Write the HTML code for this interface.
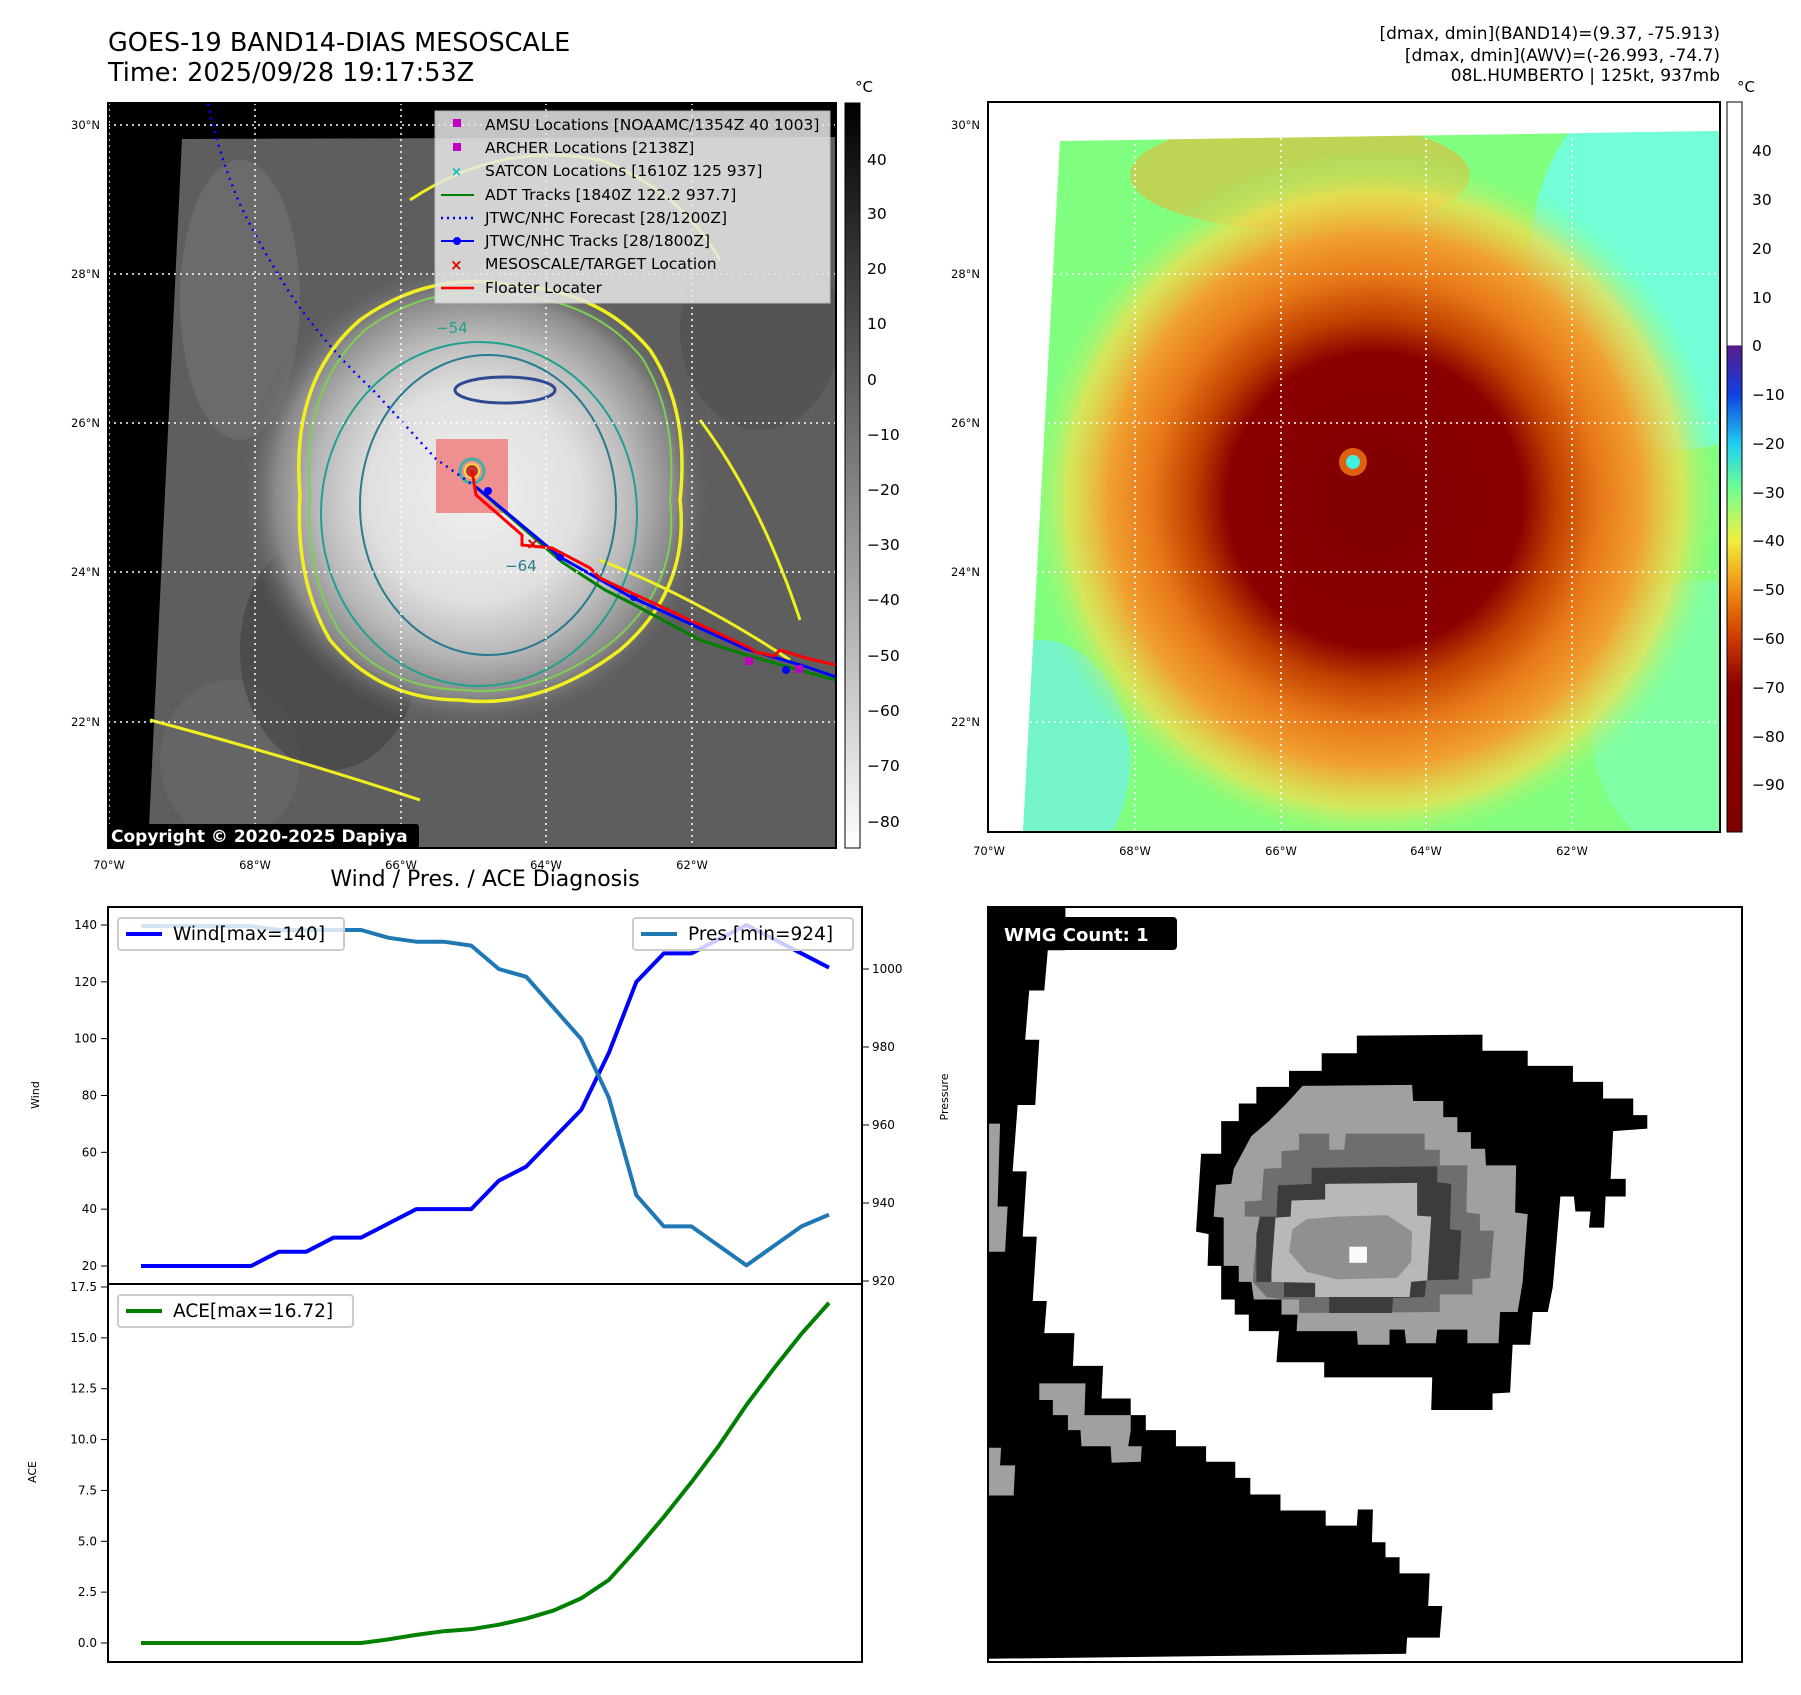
<!DOCTYPE html>
<html><head><meta charset="utf-8"><style>
body{margin:0;background:#fff;}
svg text{font-family:"DejaVu Sans","Liberation Sans",sans-serif;}
</style></head><body>
<svg id="root" width="1801" height="1690" viewBox="0 0 1801 1690" xmlns="http://www.w3.org/2000/svg">
<defs>
<radialGradient id="cloud" cx="475" cy="495" r="235" gradientUnits="userSpaceOnUse">
<stop offset="0" stop-color="#f0f0f0"/><stop offset="0.45" stop-color="#e0e0e0"/><stop offset="0.68" stop-color="#b8b8b8"/><stop offset="0.85" stop-color="#8a8a8a"/><stop offset="1" stop-color="#606060" stop-opacity="0"/></radialGradient>
<linearGradient id="cb1" x1="0" y1="0" x2="0" y2="1"><stop offset="0" stop-color="#000"/><stop offset="1" stop-color="#fff"/></linearGradient>
<linearGradient id="cb2" x1="0" y1="0" x2="0" y2="1">
<stop offset="0" stop-color="#fff"/><stop offset="0.333" stop-color="#fff"/><stop offset="0.334" stop-color="#5a1a8c"/>
<stop offset="0.4" stop-color="#1040e0"/><stop offset="0.47" stop-color="#20d0f0"/><stop offset="0.53" stop-color="#70ff90"/>
<stop offset="0.6" stop-color="#f0f040"/><stop offset="0.67" stop-color="#f08a10"/><stop offset="0.73" stop-color="#d04000"/>
<stop offset="0.8" stop-color="#8a0000"/><stop offset="1" stop-color="#800000"/></linearGradient>
<radialGradient id="storm2" cx="1375" cy="500" r="350" gradientUnits="userSpaceOnUse">
<stop offset="0" stop-color="#800000"/><stop offset="0.42" stop-color="#8a0000"/><stop offset="0.52" stop-color="#c04000"/>
<stop offset="0.64" stop-color="#e87818"/><stop offset="0.76" stop-color="#f0a030"/><stop offset="0.88" stop-color="#f0e050" stop-opacity="0.75"/><stop offset="1" stop-color="#80ff80" stop-opacity="0"/></radialGradient>
<clipPath id="m1"><rect x="108" y="103" width="728" height="745"/></clipPath>
<clipPath id="m2"><polygon points="1060,141 1720,131 1720,832 1023,832"/></clipPath>
</defs>

<!-- Top-left map -->
<text x="108" y="51" font-size="25.5">GOES-19 BAND14-DIAS MESOSCALE</text>
<text x="108" y="81" font-size="25.5">Time: 2025/09/28 19:17:53Z</text>
<g clip-path="url(#m1)">
<rect x="108" y="103" width="728" height="745" fill="#000"/>
<polygon points="182,139 836,137 836,848 148,848" fill="#5e5e5e"/>
<ellipse cx="240" cy="300" rx="60" ry="140" fill="#747474" opacity="0.6"/>
<ellipse cx="230" cy="760" rx="70" ry="80" fill="#6a6a6a" opacity="0.6"/>
<ellipse cx="330" cy="650" rx="90" ry="120" fill="#3e3e3e" opacity="0.55"/>
<ellipse cx="760" cy="330" rx="80" ry="100" fill="#4a4a4a" opacity="0.5"/>
<ellipse cx="475" cy="495" rx="240" ry="240" fill="url(#cloud)"/>
<path d="M300,495 Q290,380 360,320 Q430,270 510,285 Q600,290 650,350 Q690,410 680,500 Q690,590 620,650 Q540,710 460,700 Q380,700 330,640 Q295,580 300,495Z" fill="none" stroke="#f0f020" stroke-width="3.5"/>
<path d="M310,495 Q300,390 365,330 Q430,282 510,295 Q595,300 642,358 Q678,415 670,500 Q680,585 612,642 Q540,698 462,690 Q385,688 340,632 Q305,575 310,495Z" fill="none" stroke="#7ed050" stroke-width="2"/>
<path d="M410,200 Q500,140 600,160 Q680,190 720,260 M600,560 Q700,600 790,660 M150,720 Q300,760 420,800 M700,420 Q760,500 800,620" stroke="#f0f020" stroke-width="3" fill="none"/>
<ellipse cx="479" cy="514" rx="158" ry="172" fill="none" stroke="#20a090" stroke-width="2"/>
<ellipse cx="488" cy="505" rx="128" ry="150" fill="none" stroke="#2a7a90" stroke-width="2"/>
<ellipse cx="505" cy="390" rx="50" ry="13" fill="none" stroke="#304890" stroke-width="3"/>
<text x="436" y="333" font-size="15" fill="#20a090">−54</text>
<text x="505" y="571" font-size="15" fill="#2a7a90">−64</text>
<rect x="436" y="439" width="72" height="74" fill="#f08080" opacity="0.85"/>
<circle cx="472" cy="471" r="12" fill="none" stroke="#40b0a0" stroke-width="3"/>
<circle cx="472" cy="471" r="7" fill="#c03030" stroke="#f0e040" stroke-width="2"/>
<path d="M208,104 Q225,180 253,230 Q285,290 310,321 Q340,360 373,390 Q405,425 436,459 L476,487" fill="none" stroke="#0000ff" stroke-width="2.5" stroke-dasharray="2 5"/>
<polyline points="476,487 560,557 631,597 746,649 804,666 836,677" fill="none" stroke="#00a0a0" stroke-width="3"/>
<polyline points="476,487 562,562 605,590 631,603 700,640 746,655 806,672 836,680" fill="none" stroke="#008000" stroke-width="3"/>
<polyline points="476,487 560,557 631,597 746,649 804,666 836,677" fill="none" stroke="#0000ff" stroke-width="3"/>
<circle cx="488" cy="491" r="4" fill="#00f"/><circle cx="560" cy="557" r="4" fill="#00f"/><circle cx="634" cy="597" r="4" fill="#00f"/><circle cx="786" cy="670" r="4" fill="#00f"/>
<polyline points="472,471 476,495 522,535 522,545 552,548 590,568 600,578 636,595 750,648 756,652 774,656 780,650 806,658 836,665" fill="none" stroke="#ff0000" stroke-width="3"/>
<rect x="745" y="657" width="8" height="8" fill="#c000c0"/><rect x="795" y="665" width="8" height="8" fill="#c000c0"/>
<text x="526" y="549" font-size="16" fill="#e00000" font-weight="bold">×</text>
<g stroke="#fff" stroke-width="1.5" stroke-dasharray="2 4">
<line x1="108" y1="125" x2="836" y2="125"/><line x1="108" y1="274" x2="836" y2="274"/><line x1="108" y1="423" x2="836" y2="423"/><line x1="108" y1="572" x2="836" y2="572"/><line x1="108" y1="722" x2="836" y2="722"/>
<line x1="109" y1="103" x2="109" y2="848"/><line x1="255" y1="103" x2="255" y2="848"/><line x1="401" y1="103" x2="401" y2="848"/><line x1="546" y1="103" x2="546" y2="848"/><line x1="692" y1="103" x2="692" y2="848"/>
</g>
<g>
<rect x="435" y="111" width="395" height="192" fill="#e8e8e8" opacity="0.85" stroke="#ccc"/>
<g font-size="15.5" fill="#000">
<rect x="453" y="119" width="8" height="8" fill="#c000c0"/><text x="485" y="130">AMSU Locations [NOAAMC/1354Z 40 1003]</text>
<rect x="453" y="143" width="8" height="8" fill="#c000c0"/><text x="485" y="153">ARCHER Locations [2138Z]</text>
<text x="451" y="176" fill="#00c0c0" font-size="13" font-weight="bold">×</text><text x="485" y="176">SATCON Locations [1610Z 125 937]</text>
<line x1="441" y1="195" x2="474" y2="195" stroke="#008000" stroke-width="2"/><text x="485" y="200">ADT Tracks [1840Z 122.2 937.7]</text>
<line x1="441" y1="218" x2="474" y2="218" stroke="#00f" stroke-width="2.5" stroke-dasharray="2 4"/><text x="485" y="223">JTWC/NHC Forecast [28/1200Z]</text>
<line x1="441" y1="241" x2="474" y2="241" stroke="#00f" stroke-width="2"/><circle cx="457" cy="241" r="4" fill="#00f"/><text x="485" y="246">JTWC/NHC Tracks [28/1800Z]</text>
<text x="450" y="270" fill="#e00000" font-size="15" font-weight="bold">×</text><text x="485" y="269">MESOSCALE/TARGET Location</text>
<line x1="441" y1="288" x2="474" y2="288" stroke="#f00" stroke-width="2.5"/><text x="485" y="293">Floater Locater</text>
</g></g>
<rect x="107" y="824" width="312" height="24" fill="#000" rx="3"/>
<text x="111" y="842" font-size="17" font-weight="bold" fill="#fff">Copyright © 2020-2025 Dapiya</text>
</g>
<rect x="108" y="103" width="728" height="745" fill="none" stroke="#000" stroke-width="2"/>
<g font-size="11.5" text-anchor="end">
<text x="100" y="129">30°N</text><text x="100" y="278">28°N</text><text x="100" y="427">26°N</text><text x="100" y="576">24°N</text><text x="100" y="726">22°N</text></g>
<g font-size="11.5" text-anchor="middle">
<text x="109" y="869">70°W</text><text x="255" y="869">68°W</text><text x="401" y="869">66°W</text><text x="546" y="869">64°W</text><text x="692" y="869">62°W</text></g>
<g>
<rect x="845" y="103" width="15" height="745" fill="url(#cb1)" stroke="#000"/>
<text x="855" y="92" font-size="15">°C</text>
<g font-size="15.5"><text x="867" y="165">40</text><text x="867" y="219">30</text><text x="867" y="274">20</text><text x="867" y="329">10</text><text x="867" y="385">0</text><text x="867" y="440">−10</text><text x="867" y="495">−20</text><text x="867" y="550">−30</text><text x="867" y="605">−40</text><text x="867" y="661">−50</text><text x="867" y="716">−60</text><text x="867" y="771">−70</text><text x="867" y="827">−80</text></g></g>

<!-- Top-right map -->
<g font-size="17" text-anchor="end">
<text x="1720" y="39">[dmax, dmin](BAND14)=(9.37, -75.913)</text>
<text x="1720" y="61">[dmax, dmin](AWV)=(-26.993, -74.7)</text>
<text x="1720" y="81">08L.HUMBERTO | 125kt, 937mb</text></g>
<g>
<rect x="988" y="102" width="732" height="730" fill="#fff"/>
<g clip-path="url(#m2)">
<rect x="988" y="102" width="732" height="730" fill="#80ff80"/>
<ellipse cx="1680" cy="260" rx="150" ry="190" fill="#70ffe0" opacity="0.9"/>
<ellipse cx="1040" cy="760" rx="90" ry="120" fill="#70f0e8" opacity="0.7"/>
<ellipse cx="1700" cy="720" rx="110" ry="140" fill="#80ffb0" opacity="0.8"/>
<ellipse cx="1300" cy="175" rx="170" ry="55" fill="#f0b030" opacity="0.55"/>
<ellipse cx="1375" cy="500" rx="350" ry="350" fill="url(#storm2)"/>
<circle cx="1353" cy="462" r="14" fill="#e06010"/>
<circle cx="1353" cy="462" r="7" fill="#40f0e0"/>
</g>
<g stroke="#fff" stroke-width="1.5" stroke-dasharray="2 4">
<line x1="988" y1="125" x2="1720" y2="125"/><line x1="988" y1="274" x2="1720" y2="274"/><line x1="988" y1="423" x2="1720" y2="423"/><line x1="988" y1="572" x2="1720" y2="572"/><line x1="988" y1="722" x2="1720" y2="722"/>
<line x1="989" y1="102" x2="989" y2="832"/><line x1="1135" y1="102" x2="1135" y2="832"/><line x1="1281" y1="102" x2="1281" y2="832"/><line x1="1426" y1="102" x2="1426" y2="832"/><line x1="1572" y1="102" x2="1572" y2="832"/>
</g></g>
<rect x="988" y="102" width="732" height="730" fill="none" stroke="#000" stroke-width="2"/>
<g font-size="11.5" text-anchor="end"><text x="980" y="129">30°N</text><text x="980" y="278">28°N</text><text x="980" y="427">26°N</text><text x="980" y="576">24°N</text><text x="980" y="726">22°N</text></g>
<g font-size="11.5" text-anchor="middle"><text x="989" y="855">70°W</text><text x="1135" y="855">68°W</text><text x="1281" y="855">66°W</text><text x="1426" y="855">64°W</text><text x="1572" y="855">62°W</text></g>
<g>
<rect x="1727" y="102" width="15" height="730" fill="url(#cb2)" stroke="#000"/>
<text x="1737" y="92" font-size="15">°C</text>
<g font-size="15.5"><text x="1752" y="156">40</text><text x="1752" y="205">30</text><text x="1752" y="254">20</text><text x="1752" y="303">10</text><text x="1752" y="351">0</text><text x="1752" y="400">−10</text><text x="1752" y="449">−20</text><text x="1752" y="498">−30</text><text x="1752" y="546">−40</text><text x="1752" y="595">−50</text><text x="1752" y="644">−60</text><text x="1752" y="693">−70</text><text x="1752" y="742">−80</text><text x="1752" y="790">−90</text></g></g>

<!-- Bottom-left chart -->
<text x="485" y="886" font-size="22" text-anchor="middle">Wind / Pres. / ACE Diagnosis</text>
<g id="chart"></g>

<!-- Bottom-right WMG -->
<g>
<rect x="988" y="907" width="754" height="755" fill="#fff"/>
<g transform="translate(985,900) scale(0.5025)">
<polygon fill="#000" points="0,15 160,15 160,100 125,100 118,180 88,180 80,278 108,278 100,408 65,408 55,540 83,540 75,670 103,670 95,798 123,798 118,862 178,862 175,927 235,927 232,992 290,992 290,1025 320,1025 320,1055 380,1055 380,1087 440,1087 440,1118 498,1118 498,1150 528,1150 528,1183 588,1183 588,1215 678,1215 678,1245 740,1245 742,1213 772,1213 770,1278 797,1278 797,1308 825,1308 825,1340 885,1340 882,1405 910,1405 905,1468 840,1468 838,1500 6,1510 6,15"/>
<polygon fill="#a0a0a0" points="6,445 30,445 25,610 45,610 40,700 6,700"/>
<polygon fill="#a0a0a0" points="108,962 200,962 198,1025 290,1025 290,1055 285,1087 312,1087 310,1118 252,1120 250,1087 192,1087 190,1055 165,1055 165,1025 135,1025 135,995 108,995"/>
<polygon fill="#a0a0a0" points="6,1030 6,1185 57,1185 60,1125 30,1125 32,1090 6,1090"/>
<polygon fill="#000" points="420,660 430,505 470,505 470,440 505,440 505,405 540,405 540,372 605,372 605,340 670,340 670,305 740,305 740,270 990,268 990,300 1080,300 1080,330 1170,330 1170,362 1230,362 1230,395 1290,395 1290,428 1318,428 1318,455 1250,460 1245,555 1275,555 1275,590 1235,590 1232,652 1202,652 1205,620 1175,620 1172,590 1145,590 1130,770 1120,820 1090,820 1085,885 1050,885 1045,980 1010,982 1010,1015 888,1015 890,950 675,950 675,920 580,920 585,858 525,858 525,825 497,825 497,795 470,795 470,728 443,728 445,665"/>
<polygon fill="#a0a0a0" points="455,630 460,567 490,565 495,535 530,470 565,440 600,405 632,370 850,368 852,400 912,400 912,432 940,432 940,462 967,462 967,495 995,495 997,528 1057,528 1055,622 1080,625 1070,760 1060,820 1025,820 1022,882 960,882 960,855 900,855 897,882 838,882 835,855 805,855 805,885 742,885 740,858 620,858 622,825 590,825 590,795 535,795 530,760 505,760 505,728 475,728 475,632"/>
<polygon fill="#6e6e6e" points="517,630 517,600 550,598 555,535 590,533 590,500 625,497 625,465 685,465 685,497 715,497 718,465 875,465 875,497 905,497 905,528 960,528 958,622 985,625 985,658 1013,658 1005,752 970,755 970,785 905,785 905,820 625,822 625,795 595,795 560,790 533,760 535,728 545,630"/>
<polygon fill="#3c3c3c" points="580,630 583,568 650,565 650,533 900,530 900,562 928,565 925,655 948,658 942,755 878,757 875,790 812,792 810,822 685,822 685,790 595,790 595,760 540,760 540,665 548,630"/>
<polygon fill="#b8b8b8" points="570,740 578,632 608,630 610,598 677,596 677,565 860,563 860,628 888,630 880,757 848,760 845,790 657,790 657,762 570,760"/>
<polygon fill="#909090" points="605,700 612,655 640,635 700,630 800,627 850,660 848,720 820,752 700,755 640,740"/>
<rect x="725" y="690" width="35" height="32" fill="#fafafa"/>
</g>
<rect x="990" y="917" width="187" height="33" rx="4" fill="#000"/>
<text x="1004" y="941" font-size="18" font-weight="bold" fill="#fff">WMG Count: 1</text>
</g>
<rect x="988" y="907" width="754" height="755" fill="none" stroke="#000" stroke-width="2"/>
</svg>
<script>
const times = [0,1,2,3,4,5,6,7,8,9,10,11,12,13,14,15,16,17,18,19,20,21,22,23,24,25];
const windVals = [20,20,20,20,20,25,25,30,30,35,40,40,40,50,55,65,75,95,120,130,130,135,140,135,130,125];
const presVals = [1011,1011,1011,1011,1011,1010,1010,1010,1010,1008,1007,1007,1006,1000,998,990,982,967,942,934,934,929,924,929,934,937];
const aceVals = [0,0,0,0,0,0,0,0,0,0.18,0.4,0.58,0.68,0.9,1.2,1.6,2.2,3.1,4.6,6.2,7.9,9.7,11.7,13.5,15.2,16.72];
const windTicks = [20,40,60,80,100,120,140];
const presTicks = [920,940,960,980,1000];
const aceTicks = [0,2.5,5,7.5,10,12.5,15,17.5];

const NS='http://www.w3.org/2000/svg';
const g=document.getElementById('chart');
const X=i=>141+(i-times[0])/(times[times.length-1]-times[0])*(829-141);
const YW=v=>1266-(v-20)*(1266-925)/120;
const YP=p=>1281-(p-920)*(1281-969)/80;
const YA=a=>1643-a*(1643-1287)/17.5;
function mk(tag,attrs,parent){const e=document.createElementNS(NS,tag);for(const k in attrs)e.setAttribute(k,attrs[k]);(parent||g).appendChild(e);return e;}
function txt(x,y,s,size,anchor,extra){const t=mk('text',Object.assign({x:x,y:y,'font-size':size,'text-anchor':anchor||'start'},extra||{}));t.textContent=s;return t;}
const f1=mk('rect',{x:108,y:907,width:754,height:377,fill:'none',stroke:'#000','stroke-width':2});


const f2=mk('rect',{x:108,y:1284,width:754,height:378,fill:'none',stroke:'#000','stroke-width':2});


windTicks.forEach(v=>{mk('line',{x1:101,x2:108,y1:YW(v),y2:YW(v),stroke:'#000'});const t=txt(97,YW(v)+4,String(v),12,'end');});
presTicks.forEach(v=>{mk('line',{x1:862,x2:869,y1:YP(v),y2:YP(v),stroke:'#000'});const t=txt(872,YP(v)+4,String(v),12,'start');});
aceTicks.forEach(v=>{mk('line',{x1:101,x2:108,y1:YA(v),y2:YA(v),stroke:'#000'});const t=txt(97,YA(v)+4,v.toFixed(1),12,'end');});
const yl1=txt(39,1095,'Wind',11,'middle',{transform:'rotate(-90 39 1095)'});


const yl2=txt(948,1097,'Pressure',11,'middle',{transform:'rotate(-90 948 1097)'});


const yl3=txt(36,1472,'ACE',11,'middle',{transform:'rotate(-90 36 1472)'});


function line(vals,Y,color,name){const p=mk('polyline',{points:vals.map((v,i)=>X(times[i])+','+Y(v)).join(' '),fill:'none',stroke:color,'stroke-width':4,'stroke-linejoin':'round'});return p;}
line(windVals,YW,'#0000ff','wind-line');
line(presVals,YP,'#1f77b4','pressure-line');
line(aceVals,YA,'#008000','ace-line');
function legend(x,y,w,color,label,name){const lg=mk('g',{});mk('rect',{x:x,y:y,width:w,height:32,rx:3,fill:'#fff','fill-opacity':0.8,stroke:'#ccc','stroke-width':2},lg);mk('line',{x1:x+8,x2:x+44,y1:y+16,y2:y+16,stroke:color,'stroke-width':4},lg);const t=mk('text',{x:x+55,y:y+22,'font-size':18.5},lg);t.textContent=label;}
legend(118,918,226,'#0000ff','Wind[max='+Math.max(...windVals)+']','wind-legend');
legend(633,918,220,'#1f77b4','Pres.[min='+Math.min(...presVals)+']','pressure-legend');
legend(118,1295,235,'#008000','ACE[max='+Math.max(...aceVals).toFixed(2)+']','ace-legend');
</script>
</body></html>
